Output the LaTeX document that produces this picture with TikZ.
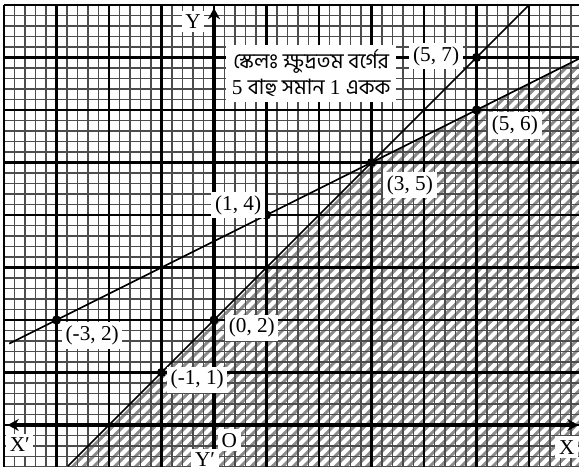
\documentclass[tikz,border=0pt]{standalone}
\usepackage{fontspec}
\setmainfont{Liberation Serif}
\newfontfamily\bnfont[Script=Bengali]{Hind Siliguri}
\usetikzlibrary{arrows.meta}
\begin{document}
\begin{tikzpicture}[>={Stealth[length=6pt,width=6.5pt]},
    lbl/.style={fill=white, inner sep=2pt, font=\fontsize{11.5}{13}\selectfont},
    dot/.style={circle, fill, inner sep=0pt, minimum size=5pt}]
    \useasboundingbox (-4.076,-0.781) rectangle (6.952,8.095);
    \begin{scope}
        \clip (-4.076,-0.781) rectangle (6.952,8.095);
        % shaded region y <= x+2, y <= x/2+3.5
        \begin{scope}
            \clip (-2.781,-0.781) -- (3,5) -- (6.952,6.976) -- (6.952,-0.781) -- cycle;
            \foreach \c in {-8.1,-7.9,...,8.2}
                \draw[black!45, line width=1.6pt] (-4,-4+\c) -- (8,8+\c);
        \end{scope}
        % graph paper
        \draw[black!70, line width=0.7pt] (-4,-1) grid[step=0.2] (7,8);
        \draw[line width=1.2pt] (-4,-1) grid[step=1] (7,8);
        % the two lines
        \draw[line width=0.9pt] (-2.781,-0.781) -- (6,8);
        \draw[line width=0.9pt] (-3.9,1.55) -- (7,7);
        % axes
        \draw[<->, line width=2pt] (-3.93,0) -- (6.94,0);
        \draw[<->, line width=2pt] (0,-1.2) -- (0,7.94);
    \end{scope}
    \node[lbl] (ylab) at (-0.40,7.68) {Y};
    \node[lbl] (xlab) at (6.72,-0.42) {X};
    \node[lbl] (xplab) at (-3.70,-0.38) {X′};
    \node[lbl] (yplab) at (-0.17,-0.66) {Y′};
    \node[lbl] (olab) at (0.29,-0.29) {O};
    \node[lbl, align=center, inner sep=3pt] (scale) at (1.85,6.70)
        {{\bnfont স্কেলঃ ক্ষুদ্রতম বর্গের}\\[1pt] 5 {\bnfont বাহু সমান} 1 {\bnfont একক}};
    % points
    \node[dot] (p57) at (5,7) {};
    \node[dot] (p56) at (5,6) {};
    \node[dot] (p35) at (3,5) {};
    \node[dot] (p14) at (1,4) {};
    \node[dot] (pm32) at (-3,2) {};
    \node[dot] (p02) at (0,2) {};
    \node[dot] (pm11) at (-1,1) {};
    \node[lbl] (l57) at (4.23,7.03) {(5, 7)};
    \node[lbl] (l56) at (5.73,5.71) {(5, 6)};
    \node[lbl] (l35) at (3.73,4.57) {(3, 5)};
    \node[lbl] (l14) at (0.46,4.19) {(1, 4)};
    \node[lbl] (lm32) at (-2.32,1.71) {(-3, 2)};
    \node[lbl] (l02) at (0.72,1.85) {(0, 2)};
    \node[lbl] (lm11) at (-0.32,0.86) {(-1, 1)};
\end{tikzpicture}
\end{document}
